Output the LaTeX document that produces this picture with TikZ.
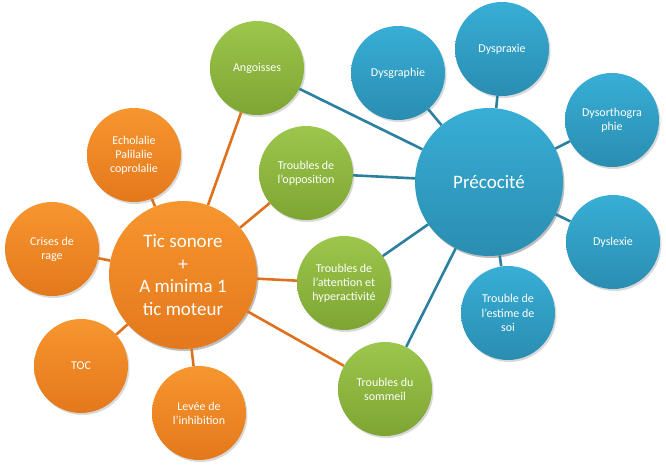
\documentclass[tikz,border=0pt]{standalone}
\usepackage{fontspec}
\setmainfont{Carlito}
\usetikzlibrary{shadows}
\definecolor{orangetop}{HTML}{F7962F}
\definecolor{orangebot}{HTML}{E4781C}
\definecolor{greentop}{HTML}{9CC64C}
\definecolor{greenbot}{HTML}{7EA533}
\definecolor{bluetop}{HTML}{38AED6}
\definecolor{bluebot}{HTML}{2A8DB1}
\definecolor{orangeline}{HTML}{E0711C}
\definecolor{blueline}{HTML}{2B7F9F}

\begin{document}
\begin{tikzpicture}[x=1pt, y=-1pt,
    bubble/.style={circle, minimum size=94pt, inner sep=1pt, align=center, text=white,
        font=\fontsize{12}{14.2}\selectfont,
        drop shadow={opacity=0.3, shadow xshift=1.5pt, shadow yshift=-2pt}},
    bigbubble/.style={bubble, minimum size=148pt, font=\fontsize{19}{22.7}\selectfont},
    orangebub/.style={bubble, top color=orangetop, bottom color=orangebot},
    greenbub/.style={bubble, top color=greentop, bottom color=greenbot},
    bluebub/.style={bubble, top color=bluetop, bottom color=bluebot},
    orangelink/.style={orangeline, line width=2.6pt},
    bluelink/.style={blueline, line width=2.6pt}
]
\useasboundingbox (0,0) rectangle (666,467);

% Centres
\node[orangebub, bigbubble] (tic) at (183,275) {Tic sonore\\+\\A minima 1\\tic moteur};
\node[bluebub, bigbubble] (preco) at (489,182) {Précocité};

% Orange side
\node[orangebub] (echo) at (134,155) {Echolalie\\Palilalie\\coprolalie};
\node[orangebub] (crises) at (52,249) {Crises de\\rage};
\node[orangebub] (toc) at (81,366) {TOC};
\node[orangebub] (levee) at (199,413) {Levée de\\l’inhibition};

% Shared (green)
\node[greenbub] (angoisses) at (257,68) {Angoisses};
\node[greenbub] (opposition) at (306,173) {Troubles de\\l’opposition};
\node[greenbub] (attention) at (344,283) {Troubles de\\l’attention et\\hyperactivité};
\node[greenbub] (sommeil) at (385,389) {Troubles du\\sommeil};

% Blue side
\node[bluebub] (dysgraphie) at (398,73) {Dysgraphie};
\node[bluebub] (dyspraxie) at (502,49) {Dyspraxie};
\node[bluebub] (dysortho) at (612,120) {Dysorthogra\\phie};
\node[bluebub] (dyslexie) at (613,242) {Dyslexie};
\node[bluebub] (estime) at (508,313) {Trouble de\\l’estime de\\soi};

% Links from tic
\foreach \n in {echo,crises,toc,levee,angoisses,opposition,attention,sommeil}
    \draw[orangelink] (tic) -- (\n);

% Links from precocite
\foreach \n in {angoisses,opposition,attention,sommeil,dysgraphie,dyspraxie,dysortho,dyslexie,estime}
    \draw[bluelink] (preco) -- (\n);

\end{tikzpicture}
\end{document}
